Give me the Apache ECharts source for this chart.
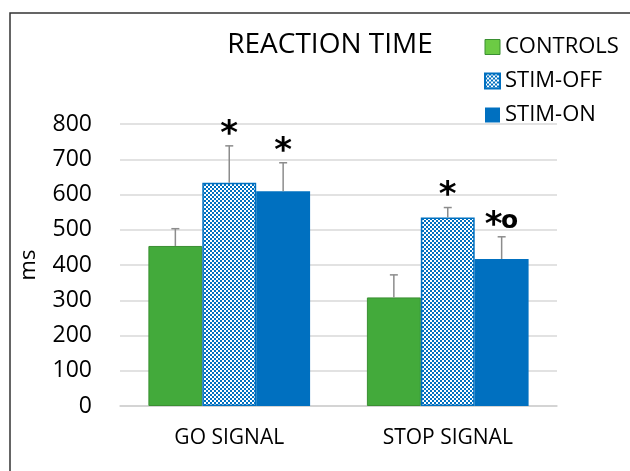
<!DOCTYPE html>
<html>
<head>
<meta charset="utf-8">
<script src="https://cdn.jsdelivr.net/npm/echarts@6/dist/echarts.min.js"></script>
<style>
  html, body { margin: 0; padding: 0; background: #fff; }
  #chart { width: 630px; height: 471px; }
</style>
</head>
<body>
<div id="chart"></div>
<script>
// data
const categories = ['GO SIGNAL', 'STOP SIGNAL'];
const seriesNames = ['CONTROLS', 'STIM-OFF', 'STIM-ON'];
const controls = [454, 308];
const stimOff = [633, 535];
const stimOn = [609, 417];
const controlsErr = [503, 372];
const stimOffErr = [738, 563];
const stimOnErr = [690, 480];
const stimOffSig = ['*', '*'];
const stimOnSig = ['*', '*o'];
const yTicks = [0, 100, 200, 300, 400, 500, 600, 700, 800];

const FONT = 'Open Sans';
const GREEN = '#43AA3B';
const BLUE = '#0070C0';

// checker pattern for STIM-OFF
function checker() {
  const c = document.createElement('canvas');
  c.width = 4; c.height = 4;
  const ctx = c.getContext('2d');
  ctx.fillStyle = '#fff';
  ctx.fillRect(0, 0, 4, 4);
  ctx.fillStyle = BLUE;
  ctx.fillRect(0, 0, 2, 2);
  ctx.fillRect(2, 2, 2, 2);
  return c;
}
const pattern = { image: checker(), repeat: 'repeat' };

const myChart = echarts.init(document.getElementById('chart'));

const barGapFrac = 0.26;

function errorSeries(idx, values, tops, sig) {
  return {
    type: 'custom',
    name: seriesNames[idx] + '-err',
    z: 5,
    data: values.map((v, i) => [i, v, tops[i], sig ? sig[i] : '']),
    renderItem: (params, api) => {
      const ci = api.value(0);
      const band = api.size([1, 0])[0];
      const bw = band * (1 - barGapFrac) / 3;
      const base = api.coord([ci, api.value(1)]);
      const top = api.coord([ci, api.value(2)]);
      const x = base[0] + (idx - 1) * bw;
      const cap = 4;
      const children = [
        { type: 'line', shape: { x1: x, y1: base[1], x2: x, y2: top[1] }, style: { stroke: '#8c8c8c', lineWidth: 1.5 } },
        { type: 'line', shape: { x1: x - cap, y1: top[1], x2: x + cap, y2: top[1] }, style: { stroke: '#8c8c8c', lineWidth: 1.5 } }
      ];
      const lab = api.value(3);
      if (lab) {
        const two = lab.length > 1;
        children.push({
          type: 'text',
          style: {
            x: two ? x - 8 : x, y: top[1] - 11,
            text: lab.charAt(0), fill: '#000',
            font: 'bold 34px "DejaVu Sans"',
            align: 'center', verticalAlign: 'middle'
          }
        });
        if (two) {
          children.push({
            type: 'text',
            style: {
              x: x + 8, y: top[1] - 15,
              text: lab.slice(1), fill: '#000',
              font: 'bold 25px "DejaVu Sans"',
              align: 'center', verticalAlign: 'middle'
            }
          });
        }
      }
      return { type: 'group', children: children };
    }
  };
}

const option = {
  backgroundColor: '#fff',
  animation: false,
  title: {
    text: 'REACTION TIME',
    left: 325, top: 26, textAlign: 'center',
    textStyle: { fontFamily: FONT, fontSize: 28, fontWeight: 'normal', color: '#000' }
  },
  legend: {
    orient: 'vertical',
    left: 479, top: 31,
    itemWidth: 15, itemHeight: 15, itemGap: 12,
    icon: 'rect',
    data: [
      { name: 'CONTROLS', itemStyle: { color: '#6CCB44', borderColor: '#3a8f32', borderWidth: 1 } },
      { name: 'STIM-OFF' },
      { name: 'STIM-ON' }
    ],
    textStyle: { fontFamily: FONT, fontSize: 22, color: '#000', padding: [0, 0, 0, 0] }
  },
  graphic: [{
    type: 'rect',
    shape: { x: 10, y: 13, width: 640, height: 480 },
    style: { fill: 'none', stroke: '#333', lineWidth: 1.5 },
    silent: true
  }],
  grid: { left: 120, right: 73, top: 124, bottom: 65 },
  xAxis: {
    type: 'category',
    data: categories,
    axisLine: { lineStyle: { color: '#d0d0d0', width: 1.5 } },
    axisTick: { show: false },
    axisLabel: { fontFamily: FONT, fontSize: 21, color: '#000', margin: 22 }
  },
  yAxis: {
    type: 'value',
    min: yTicks[0], max: yTicks[yTicks.length - 1], interval: 100,
    name: 'ms', nameLocation: 'middle', nameGap: 80, nameRotate: 90,
    nameTextStyle: { fontFamily: FONT, fontSize: 22, color: '#000' },
    axisLine: { show: false },
    axisTick: { show: false },
    splitLine: { lineStyle: { color: '#d9d9d9', width: 1.5 } },
    axisLabel: { fontFamily: FONT, fontSize: 23, color: '#000', margin: 28 }
  },
  series: [
    {
      name: 'CONTROLS', type: 'bar', data: controls,
      barGap: 0, barCategoryGap: '26%',
      itemStyle: { color: GREEN, borderColor: '#3a8f32', borderWidth: 1 }
    },
    {
      name: 'STIM-OFF', type: 'bar', data: stimOff,
      itemStyle: { color: pattern, borderColor: BLUE, borderWidth: 1.5 }
    },
    {
      name: 'STIM-ON', type: 'bar', data: stimOn,
      itemStyle: { color: BLUE }
    },
    errorSeries(0, controls, controlsErr, null),
    errorSeries(1, stimOff, stimOffErr, stimOffSig),
    errorSeries(2, stimOn, stimOnErr, stimOnSig)
  ]
};

myChart.setOption(option);
</script>
</body>
</html>
